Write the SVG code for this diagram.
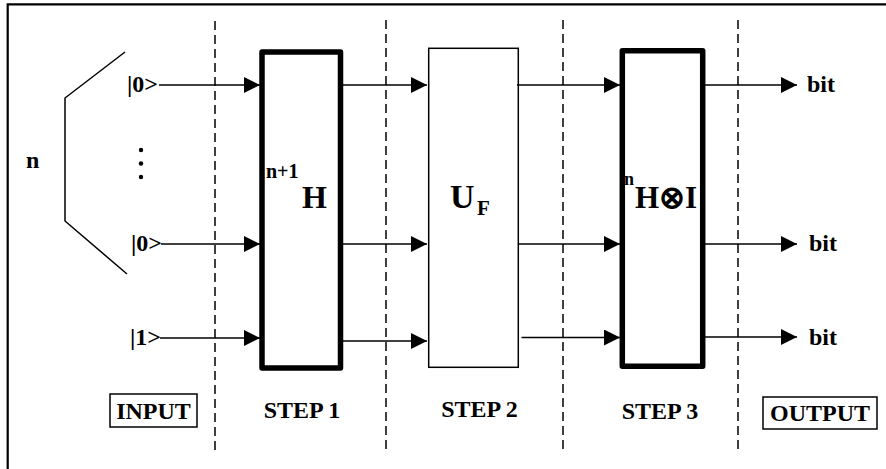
<svg xmlns="http://www.w3.org/2000/svg" width="886" height="469" viewBox="0 0 886 469">
<defs>
<marker id="ah" markerUnits="userSpaceOnUse" markerWidth="17" markerHeight="17" refX="16" refY="8" orient="auto">
<path d="M0,0 L16,8 L0,16 z" fill="#000"/>
</marker>
<style>
text{font-family:"Liberation Serif","Times New Roman",serif;font-weight:bold;fill:#000}
.t{font-size:24px}
.dash{stroke:#000;stroke-width:1.5;stroke-dasharray:9,5;fill:none}
.ln{stroke:#000;stroke-width:1.5;fill:none}
.arr{stroke:#000;stroke-width:1.5;fill:none;marker-end:url(#ah)}
.thick{stroke:#000;stroke-width:5.5;fill:#fff;stroke-linejoin:round}
.thin{stroke:#000;stroke-width:1.5;fill:#fff}
</style>
</defs>
<rect width="886" height="469" fill="#fff"/>
<path d="M7.7,469 V4.3 H886" stroke="#000" stroke-width="2.2" fill="none"/>
<g id="dividers">
<line class="dash" x1="215" y1="21" x2="215" y2="452"/>
<line class="dash" x1="386" y1="20" x2="386" y2="451"/>
<line class="dash" x1="563" y1="20" x2="563" y2="451"/>
<line class="dash" x1="738" y1="20" x2="738" y2="451"/>
</g>
<g id="input">
<path class="ln" d="M125,52 L65,98 V221 L127,274"/>
<text class="t" x="26" y="168">n</text>
<text class="t" x="127" y="92">|0&gt;</text>
<circle cx="141" cy="150" r="2.2"/>
<circle cx="141" cy="163.5" r="2.2"/>
<circle cx="141" cy="177" r="2.2"/>
<text class="t" x="131" y="251">|0&gt;</text>
<text class="t" x="130" y="345">|1&gt;</text>
<rect x="110" y="394" width="87" height="33" fill="none" stroke="#000" stroke-width="1.5"/>
<text class="t" x="153.5" y="419" text-anchor="middle">INPUT</text>
</g>
<g id="step1">
<rect class="thick" x="262" y="52" width="78.5" height="316"/>
<text x="266" y="178" font-size="20">n+1</text>
<text x="302" y="208" font-size="32">H</text>
<text class="t" x="302" y="418" text-anchor="middle">STEP 1</text>
</g>
<g id="step2">
<rect class="thin" x="428.7" y="48.3" width="89.6" height="319"/>
<text x="450" y="208" font-size="34">U</text>
<text x="477" y="215" font-size="21">F</text>
<text class="t" x="479.5" y="417" text-anchor="middle">STEP 2</text>
</g>
<g id="step3">
<rect class="thick" x="622.3" y="50.8" width="80.4" height="315.5"/>
<text x="624" y="185" font-size="18">n</text>
<text x="635" y="208" font-size="31">H⊗I</text>
<text class="t" x="660" y="419" text-anchor="middle">STEP 3</text>
</g>
<g id="output">
<text class="t" x="807" y="92">bit</text>
<text class="t" x="809" y="251">bit</text>
<text class="t" x="809" y="345">bit</text>
<rect x="763" y="397" width="114" height="32" fill="none" stroke="#000" stroke-width="1.5"/>
<text class="t" x="820" y="421" text-anchor="middle">OUTPUT</text>
</g>
<g id="connectors">
<line class="arr" x1="159" y1="85" x2="260" y2="85"/>
<line class="arr" x1="161" y1="244" x2="260" y2="244"/>
<line class="arr" x1="160" y1="338" x2="260" y2="338"/>
<line class="arr" x1="343" y1="85" x2="427" y2="85"/>
<line class="arr" x1="343" y1="244" x2="427" y2="244"/>
<line class="arr" x1="343" y1="341" x2="427" y2="341"/>
<line class="arr" x1="517" y1="85" x2="620" y2="85"/>
<line class="arr" x1="518" y1="244" x2="620" y2="244"/>
<line class="arr" x1="521.5" y1="337.5" x2="620" y2="337.5"/>
<line class="arr" x1="705" y1="85" x2="797" y2="85"/>
<line class="arr" x1="705" y1="244" x2="797" y2="244"/>
<line class="arr" x1="705" y1="337" x2="797" y2="337"/>
</g>
</svg>
